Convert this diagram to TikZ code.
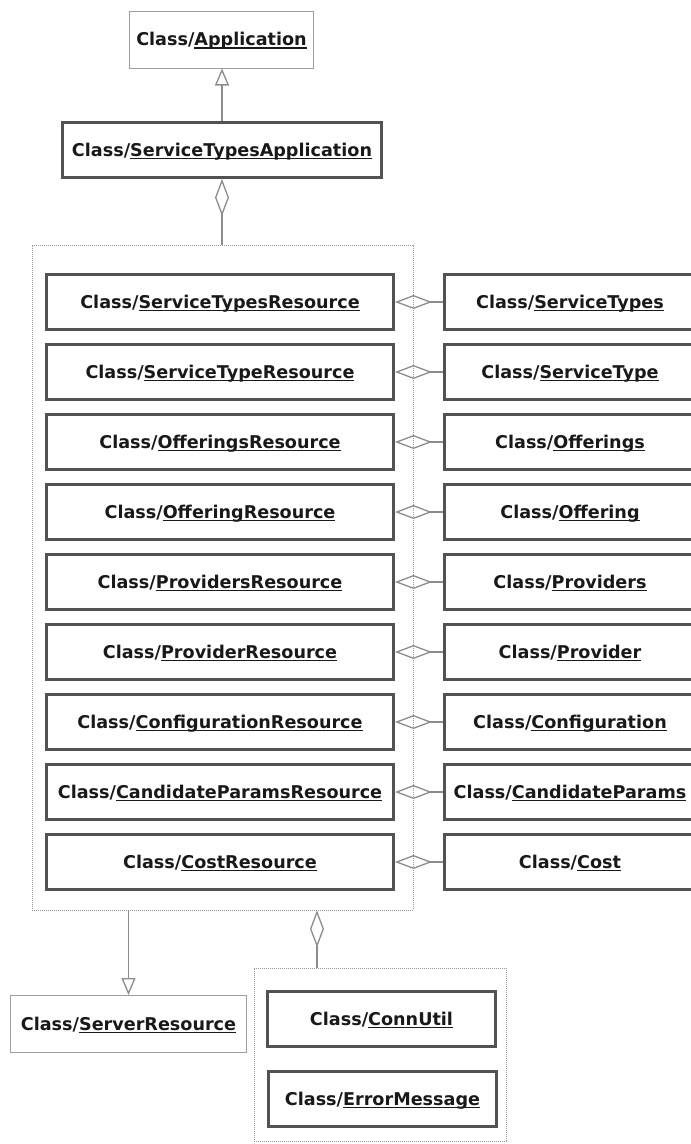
\documentclass[tikz,border=0pt]{standalone}
\usepackage{fontspec}
\setmainfont{DejaVu Sans}
\usetikzlibrary{arrows.meta}

% class name underlined the way the modelling tool prints it
\newcommand\uname[1]{\setbox0\hbox{#1}\rlap{\rule[-2.6pt]{\wd0}{1.1pt}}\box0}

\begin{document}
\begin{tikzpicture}[x=1pt,y=-1pt,
  lbl/.style={font=\fontsize{17.6}{20}\selectfont\bfseries, text=black!90,
    text height=16.8pt, text depth=4pt, inner sep=0pt},
  heavybox/.style={lbl, draw=black!68, line width=3pt, minimum height=55pt},
  lightbox/.style={lbl, draw=black!38, line width=1pt, minimum height=57pt},
  groupbox/.style={draw=black!40, line width=0.8pt, dash pattern=on 0.8pt off 1.2pt, inner sep=0pt},
  link/.style={draw=black!45, line width=1.3pt},
  gen/.style={link, -{Triangle[open, fill=white, length=17pt, width=14pt]}},
  aggr/.style={link, {Diamond[open, length=37pt, width=14pt]}-},
]
\useasboundingbox (0,0) rectangle (691,1144);
\clip (0,0) rectangle (691,1144);
\fill[white] (0,0) rectangle (691,1144);

% application classes
\node[lightbox, minimum width=184pt] (app) at (221.5,39.5) {Class/\uname{Application}};
\node[heavybox, minimum width=319pt] (sta) at (222,150) {Class/\uname{ServiceTypesApplication}};

% resources and the model classes they aggregate
\foreach \r/\m [count=\i from 0] in {
    ServiceTypesResource/ServiceTypes,
    ServiceTypeResource/ServiceType,
    OfferingsResource/Offerings,
    OfferingResource/Offering,
    ProvidersResource/Providers,
    ProviderResource/Provider,
    ConfigurationResource/Configuration,
    CandidateParamsResource/CandidateParams,
    CostResource/Cost} {
  \node[heavybox, minimum width=347pt] (res\i) at (220,302+70*\i) {Class/\uname{\r}};
  \node[heavybox, minimum width=251pt] (mod\i) at (570,302+70*\i) {Class/\uname{\m}};
  \draw[aggr] (res\i.east) -- (mod\i.west);
}

% package groups
\node[groupbox, minimum width=381pt, minimum height=665pt] (grp) at (222.5,577.5) {};
\node[groupbox, minimum width=252pt, minimum height=173pt] (util) at (380,1054.5) {};

% lower classes
\node[lightbox, minimum width=236pt] (srv) at (128.5,1024) {Class/\uname{ServerResource}};
\node[heavybox, minimum width=228pt] (conn) at (381.5,1019) {Class/\uname{ConnUtil}};
\node[heavybox, minimum width=228pt] (err) at (382.5,1099) {Class/\uname{ErrorMessage}};

% relations
\draw[gen] (sta.north) -- (sta.north |- app.south);
\draw[aggr] (sta.south) -- (sta.south |- grp.north);
\draw[gen] (srv.north |- grp.south) -- (srv.north);
\draw[aggr] ([xshift=94.5pt]grp.south) -- ([xshift=94.5pt]grp.south |- util.north);
\end{tikzpicture}
\end{document}
